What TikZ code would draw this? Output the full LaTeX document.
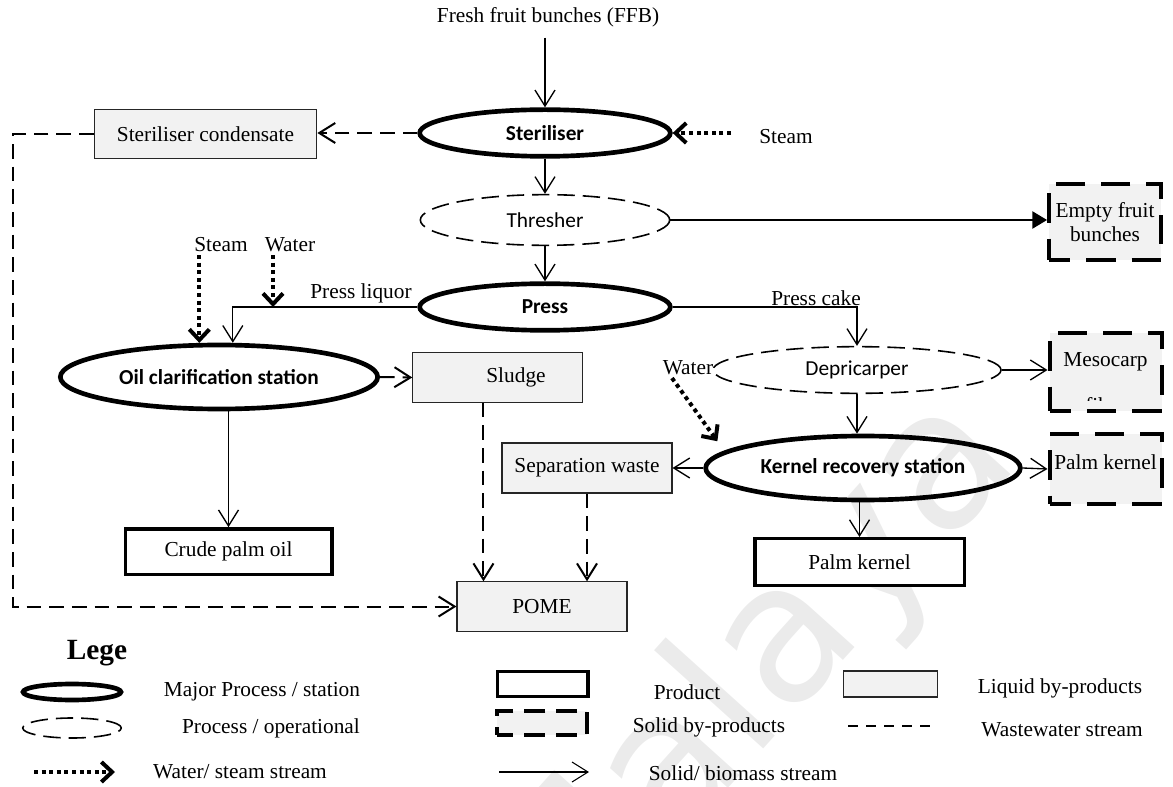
\documentclass[tikz,border=0pt]{standalone}
\usepackage{fontspec}
\setmainfont{Liberation Serif}
\newfontfamily\calfont{Carlito}
\newfontfamily\wmfont{DejaVu Sans}
\usetikzlibrary{shapes.geometric, arrows.meta, calc}

\definecolor{byfill}{RGB}{242,242,242}
\definecolor{wmgray}{RGB}{235,235,235}

\tikzset{
  lbl/.style={font=\fontsize{16}{19}\selectfont, inner sep=2pt},
  major/.style={ellipse, draw, line width=3.5pt, inner sep=0pt,
    font=\calfont\bfseries\fontsize{16}{19}\selectfont},
  minorproc/.style={ellipse, draw, line width=1.2pt, dash pattern=on 13pt off 6pt,
    inner sep=0pt, font=\calfont\fontsize{16}{19}\selectfont},
  liquid/.style={rectangle, draw=black!85, line width=0.8pt, fill=byfill,
    inner sep=0pt, font=\fontsize{16}{19}\selectfont},
  product/.style={rectangle, draw, line width=2.5pt, fill=white, inner sep=0pt,
    font=\fontsize{16}{19}\selectfont},
  solidby/.style={rectangle, draw, line width=3pt, dash pattern=on 22pt off 12pt,
    dash phase=6pt, fill=byfill, inner sep=0pt, align=center,
    font=\fontsize{16}{17.5}\selectfont},
  flow/.style={line width=1pt, -{Straight Barb[length=12pt,width=15pt]}},
  waste/.style={line width=1.5pt, dash pattern=on 11pt off 6pt,
    -{Straight Barb[length=12pt,width=15pt]}},
  utility/.style={line width=3pt, dash pattern=on 3pt off 2.7pt,
    -{Straight Barb[length=8pt,width=15pt]}},
  wm/.style={font=\wmfont\fontsize{145}{145}\selectfont, text=wmgray, inner sep=0pt},
}

\begin{document}
\begin{tikzpicture}[x=0.75pt, y=-0.75pt]
\useasboundingbox (0,0) rectangle (1173,787);

% background watermark
\begin{scope}
  \clip (0,0) rectangle (1173,787);
  \node[wm, rotate=48] (mark) at (752,682) {Malaya};
\end{scope}

% ---------- process chain ----------
\node[lbl] (ffb) at (548,17) {Fresh fruit bunches (FFB)};
\node[major, minimum width=188pt, minimum height=35pt] (ster) at (545,133) {Steriliser};
\node[lbl] (steamA) at (786,137) {Steam};
\node[liquid, minimum width=167pt, minimum height=37pt] (cond) at (205.5,134) {Steriliser condensate};
\node[minorproc, minimum width=187pt, minimum height=38pt] (thr) at (545,220) {Thresher};
\node[solidby, minimum width=84pt, minimum height=57pt] (efb) at (1105,222) {Empty fruit\\bunches};
\node[major, minimum width=188pt, minimum height=35pt] (press) at (545,307) {Press};

\node[lbl] (steamB) at (221,245) {Steam};
\node[lbl] (waterA) at (290,245) {Water};
\node[lbl] (pliq) at (361,293) {Press liquor};
\node[lbl] (pcake) at (816,298) {Press cake};

\node[major, minimum width=238pt, minimum height=48pt] (oil) at (219,377) {Oil clarification station};
\node[liquid, minimum width=127pt, minimum height=37pt] (sludge) at (497.5,377.5) {};
\node[lbl] (sludgeT) at (516,377) {Sludge};

\node[minorproc, minimum width=216pt, minimum height=35pt] (dep) at (857,370) {Depricarper};
\node[solidby, minimum width=84pt, minimum height=58pt] (meso) at (1105.5,372) {};
\node[lbl] (mesoT) at (1105.5,362) {Mesocarp};
\begin{scope}
  \clip (1050,334) rectangle (1161,401);
  \node[lbl] (mesoT2) at (1105.5,405) {fibre};
\end{scope}

\node[lbl] (waterB) at (688,368) {Water};
\node[major, minimum width=236pt, minimum height=48pt] (krs) at (863,468) {Kernel recovery station};
\node[liquid, minimum width=127.5pt, minimum height=37.5pt] (sep) at (587,468) {Separation waste};
\node[solidby, minimum width=84pt, minimum height=52pt] (pks) at (1105.5,469) {};
\node[lbl] (pksT) at (1105.5,462) {Palm kernel};

\node[product, minimum width=155pt, minimum height=34pt] (cpo) at (228.5,551.5) {Crude palm oil};
\node[product, minimum width=157pt, minimum height=35pt] (pkp) at (859.5,562) {Palm kernel};
\node[liquid, minimum width=127.5pt, minimum height=37pt] (pome) at (542,606.5) {POME};

% bends and drop points of the streams
\coordinate (ww) at (13,606.5);
\coordinate (wa) at ($(waterA.south)+(-17,0)$);
\coordinate (sl) at ($(pome.north west)+(27,0)$);
\coordinate (wb) at ($(waterB.south)+(-16,0)$);

% ---------- streams ----------
\draw[flow, shorten <=6pt] (ffb.south -| ster.north) -- (ster.north);
\draw[utility, shorten <=19pt] (ster.east -| steamA.west) -- (ster.east);
\draw[waste] (ster.west) -- (ster.west -| cond.east);
\draw[waste] (cond.west) -| (ww) -- (pome.west);
\draw[flow] (ster.south) -- (thr.north);
\draw[line width=1pt, -{Triangle[length=11pt,width=13pt]}] (thr.east) -- (thr.east -| efb.west);
\draw[flow] (thr.south) -- (press.north);

\draw[flow] (press.west) -| (oil.68);
\draw[utility] (oil.120 |- steamB.south) -- (oil.120);
\draw[utility] (wa) -- (wa |- press.west);
\draw[flow] (press.east) -| (dep.north);

\draw[waste] (oil.east) -- (sludge.west);
\draw[flow] (cpo.north |- oil.south) -- (cpo.north);
\draw[waste] (sl |- sludge.south) -- (sl);
\draw[waste] (sep.south) -- (sep.south |- pome.north);

\draw[flow] (dep.east) -- (dep.east -| meso.west);
\draw[flow] (dep.south) -- (dep.south |- krs.north);
\draw[utility, shorten >=9pt] (wb) -- (krs.173);
\draw[flow] (krs.west) -- (sep.east);
\draw[flow] (krs.east) -- (pks.west);
\draw[flow] (pkp.north |- krs.south) -- (pkp.north);

% ---------- legend ----------
\node[font=\bfseries\fontsize{22}{24}\selectfont, inner sep=0pt] (legT) at (97,653) {Lege};
\node[major, minimum width=73.5pt, minimum height=12pt] (legMaj) at (72,692) {};
\node[lbl] (legMajT) at (262,692) {Major Process / station};
\node[minorproc, minimum width=74pt, minimum height=15pt] (legMin) at (72,728) {};
\node[lbl] (legMinT) at (271,728) {Process / operational};
\coordinate (legU1) at (34,772);
\coordinate (legU2) at (115,772);
\draw[utility] (legU1) -- (legU2);
\node[lbl] (legUT) at (240,772) {Water/ steam stream};

\node[product, minimum width=68pt, minimum height=19pt] (legProd) at (542.5,684) {};
\node[lbl] (legProdT) at (687,692) {Product};
\node[solidby, minimum width=67pt, minimum height=18pt, dash pattern=on 16pt off 8pt, dash phase=4pt] (legSolid) at (542,723) {};
\node[lbl] (legSolidT) at (709,727) {Solid by-products};
\coordinate (legS1) at (499,772);
\coordinate (legS2) at (589,772);
\draw[flow, line width=0.8pt] (legS1) -- (legS2);
\node[lbl] (legST) at (743,773) {Solid/ biomass stream};

\node[liquid, minimum width=71pt, minimum height=19.5pt] (legLiq) at (890.5,684) {};
\node[lbl] (legLiqT) at (1060,688) {Liquid by-products};
\coordinate (legW1) at (848,726);
\coordinate (legW2) at (930,726);
\draw[line width=2pt, dash pattern=on 7.5pt off 6pt] (legW1) -- (legW2);
\node[lbl] (legWT) at (1062,730) {Wastewater stream};
\end{tikzpicture}
\end{document}
